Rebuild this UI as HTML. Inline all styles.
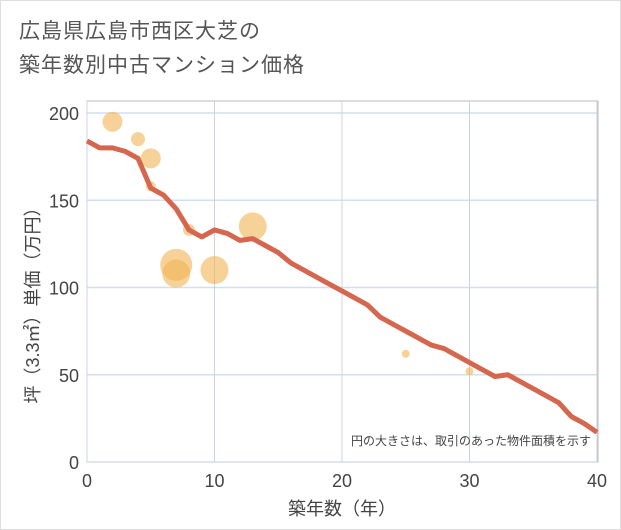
<!DOCTYPE html>
<html><head><meta charset="utf-8"><style>
body{margin:0;background:#fff;font-family:"Liberation Sans","Noto Sans CJK JP",sans-serif;}
#wrap{position:relative;width:621px;height:530px;background:#fff;border:1px solid #ddd;box-sizing:border-box;overflow:hidden}
#title{position:absolute;left:18px;top:14px;font-size:21px;line-height:34px;color:#555;letter-spacing:1px}
</style></head><body>
<div id="wrap">
<div id="title">広島県広島市西区大芝の<br>築年数別中古マンション価格</div>
<svg id="chart" width="621" height="530" style="position:absolute;left:0;top:0"></svg>
</div>
<script>
const xTicks=[0,10,20,30,40];
const yTicks=[0,50,100,150,200];
const lineX=[0,1,2,3,4,5,6,7,8,9,10,11,12,13,14,15,16,17,18,19,20,21,22,23,24,25,26,27,28,29,30,31,32,33,34,35,36,37,38,39,40];
const lineY=[184,180,180,178,174,157,153,145,133,129,133,131,127,128,124,120,114,110,106,102,98,94,90,83,79,75,71,67,65,61,57,53,49,50,46,42,38,34,26,22,17];
const bubX=[2,4,5,5,8,7,7,10,13,25,30];
const bubY=[195,185,174,158,133,113,108,110,135,62,52];
const bubR=[10,7,10,5,6,16,14,14,14,4,4];
const NS='http://www.w3.org/2000/svg';
const svg=document.getElementById('chart');
const L=86,R=596,T=112,B=461;
const xs=v=>L+(v-0)/40*(R-L);
const ys=v=>B-v/200*(B-T);
function mk(t,a){const e=document.createElementNS(NS,t);for(const k in a)e.setAttribute(k,a[k]);svg.appendChild(e);return e;}
let bg=mk('rect',{x:L,y:100,width:R-L+1,height:B-100,fill:'#fff',stroke:'#bbb'});


yTicks.forEach(v=>{
 let g=mk('line',{x1:L,x2:R,y1:ys(v),y2:ys(v),stroke:'#d3dfec','stroke-width':1.5});
 
 
 let t=mk('text',{x:L-8,y:ys(v)+7,'text-anchor':'end','font-size':18,fill:'#444'});
 t.textContent=v;
 
 
});
xTicks.forEach(v=>{
 let g=mk('line',{x1:xs(v),x2:xs(v),y1:100,y2:B,stroke:'#c8d4e0','stroke-width':1});
 
 
 let t=mk('text',{x:xs(v),y:B+25,'text-anchor':'middle','font-size':18,fill:'#444'});
 t.textContent=v;
 
 
});
bubX.forEach((x,i)=>{
 let c=mk('circle',{cx:xs(x),cy:ys(bubY[i]),r:bubR[i],fill:'#f0b454','fill-opacity':0.6});
 
 
});
let p=mk('polyline',{points:lineX.map((x,i)=>xs(x)+','+ys(lineY[i])).join(' '),fill:'none',stroke:'#d5674f','stroke-width':5,'stroke-linejoin':'round'});


let n=mk('text',{x:590,y:444,'text-anchor':'end','font-size':12,fill:'#444'});
n.textContent='円の大きさは、取引のあった物件面積を示す';


let xt=mk('text',{x:(L+R)/2,y:514,'text-anchor':'middle','font-size':18,fill:'#444'});
xt.textContent='築年数（年）';


let yt=mk('text',{x:0,y:0,'text-anchor':'middle','font-size':18,fill:'#444',transform:'translate(38,300) rotate(-90)'});
yt.textContent='坪（3.3㎡）単価（万円）';


</script>
</body></html>
